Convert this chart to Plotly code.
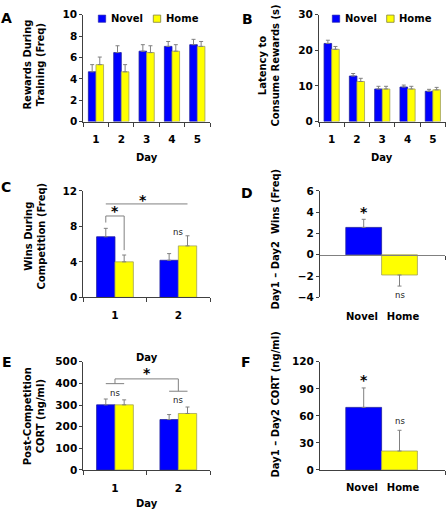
import plotly.graph_objects as go

# ---------------- data ----------------
days5 = [1, 2, 3, 4, 5]
days2 = [1, 2]
groups = ["Novel", "Home"]

a_novel = [4.66, 6.46, 6.59, 7.04, 7.2]
a_novel_err = [0.67, 0.64, 0.61, 0.46, 0.5]
a_home = [5.33, 4.66, 6.46, 6.59, 7.04]
a_home_err = [0.71, 0.67, 0.64, 0.61, 0.46]

b_novel = [21.95, 12.8, 9.15, 9.7, 8.5]
b_novel_err = [0.9, 0.7, 0.75, 0.55, 0.55]
b_home = [20.3, 11.25, 9.15, 9.15, 8.9]
b_home_err = [0.8, 0.9, 0.75, 0.75, 0.7]

c_novel = [6.83, 4.18]
c_novel_err = [0.95, 0.75]
c_home = [4.0, 5.8]
c_home_err = [0.77, 1.14]

d_vals = [2.57, -1.9]
d_err = [0.76, 1.04]

e_novel = [301, 233]
e_novel_err = [27, 23]
e_home = [301, 261]
e_home_err = [23, 30]

f_vals = [69.4, 21]
f_err = [21.6, 23]

# significance marks (data coords)
c_lines = [(0.855, 9.17, 1.145, 9.17), (0.855, 9.17, 0.855, 8.43),
           (1.145, 9.17, 1.145, 5.32), (0.855, 10.53, 2.145, 10.53)]
c_stars = [(1.0, 9.72), (1.45, 11.0)]
c_ns = [(2.0, 7.33)]
d_stars = [(0, 4.0)]
d_ns = [(1, -3.76)]
e_lines = [(0.855, 399, 1.145, 399), (1, 399, 1, 421), (1, 421, 2, 421),
           (2, 421, 2, 364), (1.855, 364, 2.145, 364)]
e_stars = [(1.5, 447)]
e_ns = [(1, 357), (2, 324)]
f_stars = [(0, 100)]
f_ns = [(1, 54)]

# ---------------- style ----------------
W, H = 446, 515
BLUE = "#0000FF"
YELLOW = "#FFFF00"
AX = "#404040"
ERR = "#808080"
FONT = "DejaVu Sans"


def fx(p):
    return p / W


def fy(p):
    return 1 - p / H


def dx(p0, p1):
    return [fx(p0), fx(p1)]


def dy(top, bot):
    return [fy(bot), fy(top)]


fig = go.Figure()


def bars(xref_n, x, y, err, color, lc, width, offset, down=False):
    fig.add_trace(go.Bar(
        x=x, y=y, width=width, offset=offset,
        marker=dict(color=color, line=dict(color=lc, width=0.8)),
        error_y=dict(type="data", symmetric=False,
                     array=[0 if down else e for e in err],
                     arrayminus=[e if down else 0 for e in err],
                     color=ERR, thickness=1, width=2),
        xaxis="x" if xref_n == 1 else f"x{xref_n}",
        yaxis="y" if xref_n == 1 else f"y{xref_n}",
        showlegend=False,
    ))


BL = "#2020A0"
YL = "#A0A060"
bars(1, days5, a_novel, a_novel_err, BLUE, BL, 0.3, -0.3)
bars(1, days5, a_home, a_home_err, YELLOW, YL, 0.3, 0.0)
bars(2, days5, b_novel, b_novel_err, BLUE, BL, 0.3, -0.3)
bars(2, days5, b_home, b_home_err, YELLOW, YL, 0.3, 0.0)
bars(3, days2, c_novel, c_novel_err, BLUE, BL, 0.29, -0.29)
bars(3, days2, c_home, c_home_err, YELLOW, YL, 0.29, 0.0)
bars(4, [0], d_vals[:1], d_err[:1], BLUE, BL, 1.0, -0.5)
bars(4, [1], d_vals[1:], d_err[1:], YELLOW, YL, 1.0, -0.5, down=True)
bars(5, days2, e_novel, e_novel_err, BLUE, BL, 0.29, -0.29)
bars(5, days2, e_home, e_home_err, YELLOW, YL, 0.29, 0.0)
bars(6, [0], f_vals[:1], f_err[:1], BLUE, BL, 1.0, -0.5)
bars(6, [1], f_vals[1:], f_err[1:], YELLOW, YL, 1.0, -0.5)

tickfont = dict(family=FONT, size=10.5, color="black", weight="bold")
catfont = dict(family=FONT, size=10, color="black", weight="bold")
cat_text = [groups[0] + "\u00a0", "\u00a0\u00a0" + groups[1]]


def yax(dom, rng, dtick, anchor):
    return dict(domain=dom, range=rng, dtick=dtick, tick0=0, anchor=anchor,
                showline=True, linecolor=AX, linewidth=1, ticks="outside",
                ticklen=3, tickcolor=AX, showgrid=False, zeroline=False,
                tickfont=tickfont, fixedrange=True)


def xcat(dom, rng, vals, anchor, text=None, line=True, minor_vals=None, standoff=8):
    d = dict(domain=dom, range=rng, anchor=anchor, tickmode="array",
             tickvals=vals, ticktext=text if text else [str(v) for v in vals],
             showline=line, linecolor=AX, linewidth=1, ticks="", tickangle=0,
             showgrid=False, zeroline=False,
             tickfont=catfont if text else tickfont,
             ticklabelstandoff=standoff, fixedrange=True)
    if minor_vals is not None:
        d["minor"] = dict(tickmode="array", tickvals=minor_vals, ticks="outside",
                          ticklen=4, tickcolor=AX, showgrid=False)
    return d


XA = dx(83.3, 210)
XB = dx(319, 445.5)
XD = dx(320, 445)
YAB = dy(9, 118.3)
YCD = dy(189.3, 298.3)
YEF = dy(364.3, 475)
DRNG = [-1.22, 2.27]

zero_pos = YCD[0] + (0 - (-4)) / 10 * (YCD[1] - YCD[0])

fig.update_layout(
    width=W, height=515, autosize=False,
    margin=dict(l=0, r=0, t=0, b=0),
    paper_bgcolor="white", plot_bgcolor="white",
    font=dict(family=FONT, color="black"),
    showlegend=False,
    xaxis=xcat(XA, [0.5, 5.5], days5, "y", minor_vals=[0.5, 1.5, 2.5, 3.5, 4.5, 5.5]),
    yaxis=yax(YAB, [0, 10], 2, "x"),
    xaxis2=xcat(XB, [0.5, 5.5], days5, "y2", minor_vals=[0.5, 1.5, 2.5, 3.5, 4.5, 5.5]),
    yaxis2=yax(YAB, [0, 30], 10, "x2"),
    xaxis3=xcat(XA, [0.5, 2.5], days2, "y3", minor_vals=[0.5, 1.5, 2.5]),
    yaxis3=yax(YCD, [0, 12], 4, "x3"),
    xaxis4=xcat(XD, DRNG, [0, 1], "y4", text=cat_text, line=False, standoff=12),
    yaxis4=yax(YCD, [-4, 6], 2, "x4"),
    xaxis5=xcat(XA, [0.5, 2.5], days2, "y5", minor_vals=[0.5, 1.5, 2.5]),
    yaxis5=yax(YEF, [0, 500], 100, "x5"),
    xaxis6=xcat(XD, DRNG, [0, 1], "y6", text=cat_text, minor_vals=[DRNG[1]]),
    yaxis6=yax(YEF, [0, 120], 30, "x6"),
    xaxis7=dict(overlaying="x4", anchor="free", position=zero_pos, domain=XD,
                range=DRNG, showline=True, linecolor=ERR, linewidth=1,
                showticklabels=False, tickmode="array", tickvals=[DRNG[1]],
                ticks="outside", ticklen=4, tickcolor=AX, showgrid=False,
                zeroline=False, fixedrange=True),
)

# dummy trace on xaxis7 so the axis renders
fig.add_trace(go.Scatter(x=[None], y=[None], xaxis="x7", yaxis="y4",
                         showlegend=False, hoverinfo="skip"))

ann = []
shapes = []

# significance lines
for (xr, yr, lines) in [("x3", "y3", c_lines), ("x5", "y5", e_lines)]:
    for (x0, y0, x1, y1) in lines:
        shapes.append(dict(type="line", xref=xr, yref=yr, x0=x0, y0=y0, x1=x1, y1=y1,
                           line=dict(color=ERR, width=1)))


def star(xr, yr, pts):
    for (x, y) in pts:
        ann.append(dict(text="*", xref=xr, yref=yr, x=x, y=y, showarrow=False,
                        xanchor="center", yanchor="middle",
                        font=dict(family=FONT, size=14, color="black", weight="bold")))


def ns(xr, yr, pts):
    for (x, y) in pts:
        ann.append(dict(text="ns", xref=xr, yref=yr, x=x, y=y, showarrow=False,
                        xanchor="center", yanchor="middle",
                        font=dict(family=FONT, size=8.5, color="#222222")))


star("x3", "y3", c_stars)
ns("x3", "y3", c_ns)
star("x4", "y4", d_stars)
ns("x4", "y4", d_ns)
star("x5", "y5", e_stars)
ns("x5", "y5", e_ns)
star("x6", "y6", f_stars)
ns("x6", "y6", f_ns)

# panel letters
for (t, px_, py_) in [("A", 6, 12), ("B", 247, 13), ("C", 6, 185),
                      ("D", 247, 191), ("E", 7, 365), ("F", 246, 365)]:
    ann.append(dict(text=t, xref="paper", yref="paper", x=fx(px_), y=fy(py_),
                    showarrow=False, xanchor="center", yanchor="middle",
                    font=dict(family=FONT, size=14, color="black", weight="bold")))

titlefont = dict(family=FONT, size=10, color="black", weight="bold")
# y titles
for (t, px_, py_) in [("Rewards During<br>Training (Freq)", 34, 60),
                      ("Latency to<br>Consume Rewards (s)", 269, 61),
                      ("Wins During<br>Competition (Freq)", 35, 236),
                      ("Day1 \u2013 Day2 \u00a0Wins (Freq)", 275, 239),
                      ("Post-Competition<br>CORT (ng/ml)", 34, 420),
                      ("Day1 \u2013 Day2 CORT (ng/ml)", 275, 408)]:
    ann.append(dict(text=t, xref="paper", yref="paper", x=fx(px_), y=fy(py_),
                    showarrow=False, xanchor="center", yanchor="middle",
                    textangle=-90, font=titlefont))
# x titles
for (px_, py_) in [(146.6, 155), (382, 155), (146.6, 360), (146.6, 509)]:
    ann.append(dict(text="Day", xref="paper", yref="paper", x=fx(px_), y=fy(py_),
                    showarrow=False, xanchor="center", yanchor="middle",
                    font=titlefont))

# legends (A and B)
for (bx, yx, tn, th) in [(98.3, 153.3, 109, 163.5), (332.3, 386.7, 343, 396.5)]:
    shapes.append(dict(type="rect", xref="paper", yref="paper",
                       x0=fx(bx), x1=fx(bx + 7.4), y0=fy(16.7), y1=fy(9.3),
                       fillcolor=BLUE, line=dict(color=BL, width=0.6)))
    shapes.append(dict(type="rect", xref="paper", yref="paper",
                       x0=fx(yx), x1=fx(yx + 7.4), y0=fy(16.7), y1=fy(9.3),
                       fillcolor=YELLOW, line=dict(color="#808040", width=0.8)))
    ann.append(dict(text=groups[0], xref="paper", yref="paper", x=fx(tn), y=fy(13),
                    showarrow=False, xanchor="left", yanchor="middle", font=titlefont))
    ann.append(dict(text=groups[1], xref="paper", yref="paper", x=fx(th), y=fy(13),
                    showarrow=False, xanchor="left", yanchor="middle", font=titlefont))

fig.update_layout(annotations=ann, shapes=shapes)
fig.write_html(
    "out.html",
    config={"displayModeBar": False},
    post_script="document.body.style.margin='0';document.body.style.padding='0';"
                "document.body.style.overflow='hidden';",
)
